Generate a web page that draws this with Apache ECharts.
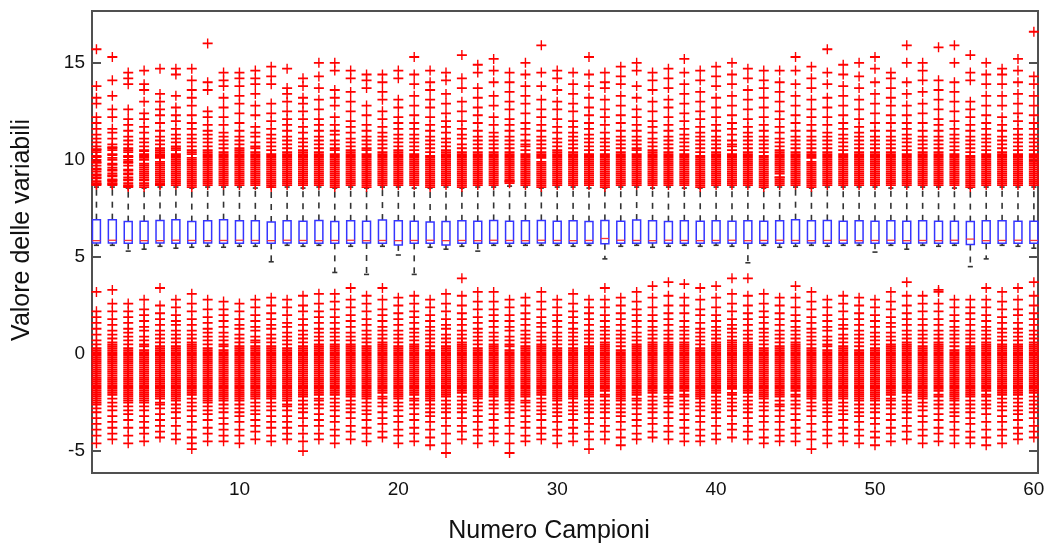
<!DOCTYPE html>
<html>
<head>
<meta charset="utf-8">
<script src="https://cdn.jsdelivr.net/npm/echarts@6/dist/echarts.min.js"></script>
<style>html,body{margin:0;padding:0;background:#fff}#c{width:1053px;height:549px}</style>
</head>
<body>
<div id="c"></div>
<script>
// ---- data ----
const samples = [1,2,3,4,5,6,7,8,9,10,11,12,13,14,15,16,17,18,19,20,21,22,23,24,25,26,27,28,29,30,31,32,33,34,35,36,37,38,39,40,41,42,43,44,45,46,47,48,49,50,51,52,53,54,55,56,57,58,59,60];
const xTickLabels = [10,20,30,40,50,60];
const yTickLabels = [-5,0,5,10,15];

const q1 = [5.72,5.72,5.70,5.71,5.72,5.70,5.71,5.72,5.70,5.71,5.70,5.70,5.72,5.71,5.70,5.70,5.71,5.72,5.70,5.62,5.70,5.71,5.62,5.70,5.71,5.70,5.70,5.71,5.72,5.70,5.71,5.70,5.68,5.71,5.70,5.72,5.70,5.71,5.70,5.72,5.70,5.71,5.70,5.71,5.70,5.72,5.71,5.70,5.72,5.71,5.70,5.71,5.72,5.70,5.71,5.64,5.70,5.71,5.70,5.70];
const median = [5.84,5.86,5.85,5.84,5.84,5.86,5.85,5.84,5.85,5.86,5.85,5.84,5.86,5.85,5.84,5.85,5.86,5.84,5.85,5.84,5.85,5.86,5.84,5.85,5.84,5.86,5.85,5.84,5.86,5.85,5.84,5.85,5.95,5.86,5.85,5.84,5.86,5.85,5.84,5.85,5.86,5.84,5.85,5.86,5.85,5.84,5.85,5.86,5.84,5.85,5.86,5.84,5.85,5.84,5.86,5.92,5.84,5.85,5.86,5.85];
const q3 = [6.92,6.92,6.82,6.84,6.88,6.92,6.82,6.86,6.92,6.86,6.86,6.80,6.86,6.84,6.88,6.82,6.86,6.84,6.90,6.86,6.84,6.80,6.82,6.86,6.84,6.88,6.84,6.86,6.88,6.84,6.86,6.82,6.88,6.84,6.90,6.86,6.82,6.86,6.84,6.86,6.84,6.86,6.84,6.86,6.92,6.86,6.88,6.84,6.86,6.84,6.86,6.84,6.86,6.84,6.84,6.82,6.86,6.86,6.84,6.84];
const whiskerLow = [5.60,5.60,5.30,5.40,5.55,5.45,5.50,5.55,5.50,5.55,5.55,4.75,5.60,5.55,5.60,4.20,5.55,4.10,5.55,5.10,4.10,5.50,5.40,5.55,5.30,5.60,5.55,5.60,5.60,5.60,5.55,5.60,4.90,5.55,5.60,5.50,5.55,5.60,5.55,5.60,5.55,4.70,5.60,5.50,5.55,5.60,5.55,5.60,5.60,5.25,5.60,5.40,5.60,5.55,5.60,4.50,4.90,5.60,5.55,5.45];
const whiskerHigh = [8.60,8.60,8.55,8.55,8.60,8.60,8.55,8.60,8.60,8.60,8.55,8.60,8.60,8.55,8.60,8.55,8.60,8.55,8.60,8.60,8.55,8.55,8.60,8.55,8.60,8.60,8.65,8.60,8.55,8.60,8.60,8.55,8.55,8.60,8.60,8.55,8.60,8.55,8.55,8.60,8.60,8.60,8.55,8.60,8.60,8.55,8.60,8.60,8.60,8.60,8.55,8.60,8.60,8.60,8.55,8.55,8.60,8.60,8.60,8.60];

const outliersHigh = [
[15.7,13.8,13.2,12.9,12.2,11.9,11.6,11.3,11.1,10.9,10.7,10.5,10.4,10.2,10.0,9.9,9.7,9.5,9.4,9.2,9.1,8.9,8.8,8.7],
[15.3,14.1,13.3,12.6,12.2,11.6,11.4,11.1,10.8,10.6,10.5,10.3,10.1,10.0,9.8,9.6,9.5,9.3,9.2,9.0,8.9,8.8,8.7],
[14.5,14.2,13.9,12.6,12.1,11.8,11.5,11.2,11.0,10.8,10.6,10.4,10.2,10.0,9.9,9.7,9.5,9.3,9.1,9.0,8.8,8.7,8.6],
[14.6,13.9,13.6,13.0,12.4,12.1,11.7,11.4,11.1,10.9,10.7,10.5,10.3,10.2,10.0,9.8,9.6,9.4,9.3,9.1,9.0,8.8,8.6],
[14.7,13.4,13.0,12.6,12.3,11.9,11.5,11.2,11.0,10.8,10.6,10.4,10.3,10.1,9.9,9.7,9.6,9.4,9.2,9.1,8.9,8.8,8.7],
[14.7,14.4,13.3,12.7,12.3,12.0,11.6,11.3,11.1,10.9,10.7,10.5,10.3,10.2,10.0,9.8,9.7,9.5,9.3,9.2,9.0,8.9,8.7],
[14.7,14.1,13.6,13.2,12.8,12.3,11.9,11.6,11.3,11.1,10.9,10.7,10.5,10.3,10.1,9.9,9.8,9.6,9.4,9.3,9.1,8.9,8.8,8.6],
[16.0,14.0,13.6,12.5,12.2,11.8,11.5,11.3,11.1,10.9,10.7,10.5,10.4,10.2,10.0,9.9,9.7,9.6,9.4,9.2,9.0,8.9,8.7],
[14.5,14.1,13.8,13.2,12.7,12.2,11.8,11.4,11.2,11.0,10.8,10.6,10.4,10.3,10.1,9.9,9.8,9.6,9.4,9.2,9.1,8.9,8.7],
[14.5,14.2,13.8,13.3,12.9,12.4,11.9,11.5,11.2,11.0,10.8,10.6,10.5,10.3,10.1,10.0,9.8,9.6,9.5,9.3,9.1,9.0,8.8,8.7],
[14.6,14.2,13.9,13.4,12.8,12.3,11.7,11.4,11.2,10.9,10.7,10.6,10.4,10.2,10.0,9.9,9.7,9.5,9.4,9.2,9.0,8.9,8.7],
[14.8,14.3,13.9,12.9,12.4,12.0,11.6,11.3,11.1,10.9,10.7,10.5,10.3,10.1,10.0,9.8,9.6,9.5,9.3,9.1,9.0,8.8,8.6],
[14.7,13.7,13.4,13.0,12.5,12.1,11.8,11.5,11.2,11.0,10.8,10.6,10.4,10.2,10.1,9.9,9.7,9.6,9.4,9.2,9.1,8.9,8.8],
[14.2,13.8,13.2,12.9,12.5,12.1,11.7,11.4,11.1,10.9,10.7,10.5,10.4,10.2,10.0,9.8,9.7,9.5,9.3,9.2,9.0,8.8,8.7],
[15.0,14.3,13.7,13.1,12.6,12.1,11.8,11.5,11.2,11.0,10.8,10.6,10.4,10.2,10.0,9.9,9.7,9.5,9.4,9.2,9.1,8.9,8.7],
[15.0,14.6,13.6,13.2,12.8,12.2,11.8,11.5,11.3,11.0,10.8,10.6,10.5,10.3,10.1,9.9,9.8,9.6,9.4,9.3,9.1,8.9,8.8,8.6],
[14.6,14.2,13.5,13.0,12.5,12.0,11.7,11.4,11.1,10.9,10.7,10.5,10.3,10.2,10.0,9.8,9.6,9.5,9.3,9.1,9.0,8.8,8.7],
[14.4,14.1,13.7,12.8,12.3,11.8,11.5,11.2,11.0,10.8,10.6,10.5,10.3,10.1,9.9,9.8,9.6,9.4,9.3,9.1,8.9,8.8,8.6],
[14.4,14.0,13.5,13.1,12.5,12.1,11.7,11.4,11.2,11.0,10.8,10.6,10.4,10.2,10.1,9.9,9.7,9.5,9.4,9.2,9.0,8.9,8.7],
[14.6,14.2,13.1,12.7,12.2,11.9,11.6,11.3,11.1,10.9,10.7,10.5,10.3,10.1,10.0,9.8,9.6,9.5,9.3,9.1,9.0,8.8,8.7],
[15.3,14.4,13.9,13.3,12.8,12.3,11.9,11.6,11.3,11.1,10.9,10.7,10.5,10.3,10.1,9.9,9.8,9.6,9.4,9.3,9.1,8.9,8.7],
[14.6,14.0,13.6,13.1,12.7,12.2,11.8,11.5,11.2,11.0,10.8,10.6,10.4,10.2,10.0,9.9,9.7,9.5,9.3,9.2,9.0,8.8,8.6],
[14.5,14.1,13.4,12.9,12.4,12.0,11.7,11.4,11.1,10.9,10.7,10.5,10.3,10.2,10.0,9.8,9.7,9.5,9.3,9.1,9.0,8.8,8.7],
[15.4,14.2,13.7,13.0,12.5,12.0,11.6,11.3,11.1,10.8,10.6,10.4,10.3,10.1,9.9,9.8,9.6,9.4,9.3,9.1,8.9,8.8,8.6],
[14.9,14.5,13.7,13.2,12.7,12.3,11.9,11.5,11.2,11.0,10.8,10.6,10.4,10.3,10.1,9.9,9.7,9.6,9.4,9.2,9.0,8.9,8.7],
[15.2,14.6,14.0,13.3,12.8,12.2,11.8,11.4,11.2,11.0,10.8,10.6,10.4,10.2,10.0,9.9,9.7,9.5,9.4,9.2,9.0,8.9,8.7],
[14.5,14.0,13.5,13.0,12.6,12.1,11.8,11.5,11.2,11.0,10.8,10.6,10.4,10.3,10.1,9.9,9.8,9.6,9.4,9.2,9.1,8.9,8.8],
[15.0,14.4,13.8,13.3,12.9,12.4,11.9,11.6,11.3,11.0,10.8,10.7,10.5,10.3,10.1,9.9,9.7,9.6,9.4,9.2,9.0,8.8,8.7],
[15.9,14.5,13.8,13.1,12.6,12.2,11.8,11.5,11.2,11.0,10.8,10.6,10.4,10.2,10.1,9.9,9.7,9.5,9.3,9.2,9.0,8.8,8.6],
[14.6,14.2,13.6,13.0,12.6,12.1,11.7,11.4,11.1,10.9,10.7,10.5,10.4,10.2,10.0,9.8,9.7,9.5,9.3,9.1,9.0,8.8,8.7],
[14.5,13.9,13.4,12.9,12.5,12.0,11.7,11.4,11.2,11.0,10.8,10.6,10.4,10.2,10.0,9.9,9.7,9.5,9.4,9.2,9.0,8.9,8.7],
[15.3,14.4,13.8,13.2,12.7,12.3,11.9,11.6,11.3,11.1,10.9,10.7,10.5,10.3,10.1,10.0,9.8,9.6,9.4,9.3,9.1,8.9,8.7],
[14.5,14.0,13.7,13.1,12.6,12.2,11.8,11.4,11.1,10.9,10.7,10.5,10.3,10.2,10.0,9.8,9.6,9.5,9.3,9.1,9.0,8.8,8.6],
[14.8,14.3,13.9,13.3,12.8,12.3,11.9,11.5,11.2,11.0,10.8,10.6,10.4,10.3,10.1,9.9,9.8,9.6,9.4,9.2,9.1,8.9,8.7],
[15.0,14.6,13.8,13.2,12.6,12.2,11.8,11.5,11.2,11.0,10.8,10.6,10.5,10.3,10.1,9.9,9.7,9.6,9.4,9.2,9.0,8.8,8.7],
[14.5,14.1,13.6,13.0,12.5,12.0,11.7,11.4,11.1,10.9,10.7,10.5,10.3,10.1,10.0,9.8,9.6,9.5,9.3,9.2,9.0,8.8,8.7],
[14.7,14.2,13.7,13.1,12.7,12.2,11.8,11.5,11.2,11.0,10.8,10.6,10.4,10.2,10.0,9.9,9.7,9.5,9.4,9.2,9.0,8.9,8.7],
[15.2,14.5,13.9,13.4,12.9,12.4,12.0,11.6,11.3,11.1,10.9,10.7,10.5,10.3,10.1,9.9,9.8,9.6,9.4,9.2,9.1,8.9,8.7],
[14.6,14.1,13.5,13.0,12.5,12.1,11.7,11.4,11.2,11.0,10.8,10.6,10.4,10.2,10.0,9.8,9.7,9.5,9.3,9.2,9.0,8.8,8.6],
[14.8,14.3,13.8,13.2,12.7,12.2,11.8,11.5,11.2,11.0,10.8,10.6,10.4,10.2,10.1,9.9,9.7,9.5,9.4,9.2,9.0,8.9,8.7],
[15.0,14.4,13.9,13.3,12.8,12.3,11.9,11.6,11.3,11.0,10.8,10.7,10.5,10.3,10.1,9.9,9.8,9.6,9.4,9.2,9.1,8.9,8.7],
[14.7,14.2,13.6,13.1,12.6,12.1,11.7,11.4,11.2,11.0,10.8,10.6,10.4,10.2,10.0,9.9,9.7,9.5,9.3,9.1,9.0,8.8,8.7],
[14.6,14.1,13.7,13.2,12.7,12.2,11.8,11.5,11.2,11.0,10.8,10.6,10.4,10.2,10.0,9.8,9.7,9.5,9.3,9.2,9.0,8.8,8.6],
[14.6,14.0,13.5,13.0,12.5,12.1,11.7,11.4,11.1,10.9,10.7,10.5,10.3,10.2,10.0,9.8,9.6,9.5,9.3,9.1,9.0,8.8,8.7],
[15.3,14.6,13.9,13.3,12.8,12.3,11.9,11.5,11.2,11.0,10.8,10.6,10.4,10.2,10.1,9.9,9.7,9.6,9.4,9.2,9.0,8.9,8.7],
[14.8,14.2,13.7,13.1,12.6,12.2,11.8,11.5,11.2,11.0,10.8,10.6,10.4,10.3,10.1,9.9,9.7,9.5,9.3,9.2,9.0,8.8,8.6],
[15.7,14.5,13.9,13.2,12.7,12.2,11.8,11.4,11.2,11.0,10.8,10.6,10.4,10.2,10.0,9.9,9.7,9.5,9.4,9.2,9.0,8.9,8.7],
[14.9,14.4,13.8,13.3,12.8,12.3,11.9,11.6,11.3,11.1,10.9,10.7,10.5,10.3,10.1,9.9,9.7,9.6,9.4,9.2,9.1,8.9,8.7],
[15.0,14.3,13.7,13.1,12.6,12.1,11.7,11.4,11.2,11.0,10.8,10.6,10.4,10.2,10.0,9.8,9.7,9.5,9.3,9.1,9.0,8.8,8.7],
[15.3,14.7,14.0,13.4,12.9,12.4,11.9,11.5,11.2,11.0,10.8,10.6,10.4,10.3,10.1,9.9,9.7,9.5,9.4,9.2,9.0,8.9,8.7],
[14.5,14.2,13.7,13.2,12.8,12.3,11.9,11.5,11.2,11.0,10.8,10.6,10.4,10.2,10.0,9.9,9.7,9.5,9.3,9.2,9.0,8.8,8.7],
[15.9,15.0,14.0,13.4,12.8,12.3,11.9,11.6,11.3,11.1,10.9,10.7,10.5,10.3,10.1,9.9,9.8,9.6,9.4,9.2,9.0,8.9,8.7],
[15.0,14.6,14.1,13.5,12.9,12.4,11.9,11.5,11.2,11.0,10.8,10.6,10.4,10.2,10.0,9.9,9.7,9.5,9.4,9.2,9.0,8.8,8.7],
[15.8,14.1,13.6,13.1,12.6,12.1,11.8,11.5,11.2,11.0,10.8,10.6,10.4,10.3,10.1,9.9,9.7,9.6,9.4,9.2,9.1,8.9,8.7],
[15.9,15.0,14.0,13.5,13.0,12.5,12.0,11.6,11.3,11.1,10.9,10.7,10.5,10.3,10.1,10.0,9.8,9.6,9.4,9.3,9.1,8.9,8.7],
[15.4,14.5,14.1,13.0,12.6,12.2,11.8,11.5,11.2,11.0,10.8,10.6,10.4,10.2,10.0,9.8,9.7,9.5,9.3,9.1,9.0,8.8,8.6],
[15.0,14.4,13.9,13.3,12.8,12.3,11.9,11.6,11.3,11.1,10.9,10.7,10.5,10.3,10.1,9.9,9.7,9.6,9.4,9.2,9.0,8.9,8.7],
[14.7,14.4,13.9,13.3,12.8,12.2,11.8,11.5,11.2,11.0,10.8,10.6,10.4,10.2,10.0,9.9,9.7,9.5,9.4,9.2,9.0,8.8,8.7],
[15.2,14.6,14.0,13.4,12.9,12.4,12.0,11.6,11.3,11.1,10.9,10.7,10.5,10.3,10.1,9.9,9.8,9.6,9.4,9.2,9.0,8.9,8.7],
[16.6,14.3,13.9,13.3,12.8,12.3,11.9,11.6,11.3,11.1,10.9,10.7,10.5,10.3,10.1,9.9,9.7,9.5,9.4,9.2,9.0,8.8,8.7]
];

// extra observations in the solid (crowded) part of each upper cluster
const highDense = [
[8.75,9.05,9.25,9.55,9.85,10.15,10.55],[8.75,8.95,9.15,9.45,9.75,10.25,10.65],[8.65,8.95,9.25,9.45,9.85,10.15,10.5],[8.7,8.95,9.2,9.5,9.7,10.1,10.45],
[8.75,9.0,9.3,9.5,9.8,10.2,10.5],[8.8,9.1,9.4,9.6,9.9,10.1,10.6],[8.7,9.0,9.2,9.5,9.7,10.0,10.4],[8.8,9.1,9.3,9.5,9.8,10.1,10.3],
[8.8,9.0,9.3,9.5,9.7,10.0,10.2],[8.9,9.2,9.4,9.7,9.9,10.2,10.4],[8.8,9.1,9.3,9.6,9.8,10.1,10.3],[8.7,8.9,9.2,9.4,9.7,9.9,10.2],
[8.7,9.0,9.3,9.5,9.8,10.0,10.3],[8.9,9.1,9.4,9.6,9.9,10.1,10.3],[8.8,9.0,9.3,9.6,9.8,10.1,10.3],[8.7,9.0,9.2,9.5,9.7,10.0,10.2],
[8.9,9.2,9.4,9.7,9.9,10.1,10.4],[8.7,9.0,9.2,9.5,9.7,10.0,10.2],[8.8,9.1,9.3,9.6,9.8,10.0,10.3],[8.9,9.2,9.4,9.7,9.9,10.2,10.4],
[8.8,9.0,9.2,9.5,9.7,10.0,10.2],[8.7,8.9,9.1,9.4,9.6,9.8,10.1],[8.9,9.2,9.4,9.6,9.9,10.1,10.4],[8.7,9.0,9.2,9.5,9.7,10.0,10.2],
[8.8,9.1,9.3,9.5,9.8,10.0,10.2],[8.8,9.1,9.3,9.6,9.8,10.1,10.3],[8.9,9.0,9.3,9.5,9.7,10.0,10.2],[8.9,9.1,9.3,9.5,9.8,10.0,10.2],
[8.7,8.9,9.1,9.4,9.6,9.8,10.3],[8.9,9.2,9.4,9.6,9.9,10.1,10.3],[8.8,9.1,9.3,9.6,9.8,10.1,10.3],[8.8,9.0,9.2,9.5,9.7,9.9,10.2],
[8.7,8.9,9.2,9.4,9.7,9.9,10.1],[8.8,9.0,9.3,9.5,9.7,10.0,10.2],[8.9,9.1,9.3,9.5,9.8,10.0,10.2],[8.9,9.1,9.4,9.7,9.9,10.2,10.4],
[8.8,9.1,9.3,9.6,9.8,10.1,10.3],[8.8,9.0,9.3,9.5,9.7,10.0,10.2],[8.7,8.9,9.1,9.4,9.6,9.9,10.1],[8.8,9.1,9.3,9.6,9.8,10.0,10.3],
[8.8,9.0,9.3,9.5,9.7,10.0,10.2],[8.9,9.2,9.4,9.6,9.8,10.1,10.3],[8.7,8.9,9.1,9.4,9.6,9.9,10.1],[8.9,9.1,9.4,9.7,9.9,10.1,10.4],
[8.8,9.1,9.3,9.5,9.8,10.0,10.3],[8.7,8.9,9.1,9.4,9.6,9.8,10.2],[8.8,9.1,9.3,9.6,9.8,10.1,10.3],[8.8,9.0,9.3,9.5,9.8,10.0,10.2],
[8.9,9.2,9.4,9.6,9.9,10.1,10.3],[8.8,9.1,9.3,9.6,9.8,10.0,10.2],[8.9,9.1,9.4,9.6,9.8,10.1,10.3],[8.8,9.1,9.3,9.5,9.7,10.0,10.2],
[8.9,9.1,9.3,9.6,9.8,10.1,10.3],[8.8,9.0,9.3,9.5,9.8,10.0,10.2],[8.8,9.0,9.2,9.5,9.7,9.9,10.2],[8.7,8.9,9.2,9.4,9.6,9.9,10.1],
[8.8,9.1,9.3,9.5,9.8,10.0,10.2],[8.9,9.1,9.3,9.6,9.8,10.1,10.3],[8.8,9.1,9.3,9.5,9.7,10.0,10.2],[8.9,9.1,9.3,9.6,9.8,10.0,10.2]
];

const outliersLow = [
[3.2,2.2,1.9,1.6,1.3,1.0,0.7,0.5,0.3,0.2,0.0,-0.1,-0.3,-0.4,-0.6,-0.7,-0.9,-1.0,-1.2,-1.3,-1.5,-1.6,-1.8,-1.9,-2.1,-2.2,-2.4,-2.6,-2.8,-3.0,-3.3,-3.6,-3.9,-4.2,-4.6],
[3.3,2.6,2.2,1.8,1.5,1.2,1.0,0.8,0.6,0.4,0.2,0.1,-0.1,-0.2,-0.4,-0.5,-0.7,-0.8,-1.0,-1.1,-1.3,-1.5,-1.6,-1.8,-2.0,-2.1,-2.3,-2.5,-2.7,-2.9,-3.2,-3.5,-3.8,-4.1,-4.4],
[2.6,2.2,1.9,1.6,1.3,1.1,0.9,0.7,0.5,0.3,0.1,0.0,-0.2,-0.3,-0.5,-0.6,-0.8,-0.9,-1.1,-1.2,-1.4,-1.5,-1.7,-1.9,-2.0,-2.2,-2.4,-2.5,-2.7,-2.9,-3.1,-3.4,-3.8,-4.2,-4.6],
[2.8,2.3,2.0,1.7,1.4,1.2,0.9,0.7,0.5,0.4,0.2,0.0,-0.1,-0.3,-0.4,-0.6,-0.7,-0.9,-1.0,-1.2,-1.4,-1.5,-1.7,-1.8,-2.0,-2.2,-2.3,-2.5,-2.7,-2.9,-3.2,-3.5,-3.8,-4.1,-4.5],
[3.4,2.5,2.1,1.8,1.5,1.2,1.0,0.8,0.6,0.4,0.2,0.1,-0.1,-0.2,-0.4,-0.6,-0.7,-0.9,-1.0,-1.2,-1.3,-1.5,-1.7,-1.8,-2.0,-2.1,-2.3,-2.5,-2.6,-2.8,-3.1,-3.4,-3.7,-4.0,-4.3],
[2.8,2.4,2.0,1.7,1.5,1.2,1.0,0.8,0.6,0.4,0.3,0.1,-0.1,-0.2,-0.4,-0.5,-0.7,-0.8,-1.0,-1.2,-1.3,-1.5,-1.6,-1.8,-2.0,-2.1,-2.3,-2.4,-2.6,-2.8,-3.0,-3.3,-3.7,-4.1,-4.4],
[3.1,2.6,2.2,1.8,1.5,1.2,1.0,0.8,0.6,0.5,0.3,0.1,0.0,-0.2,-0.3,-0.5,-0.6,-0.8,-1.0,-1.1,-1.3,-1.4,-1.6,-1.8,-1.9,-2.1,-2.3,-2.5,-2.7,-2.9,-3.2,-3.5,-3.9,-4.3,-4.6,-4.9],
[2.8,2.3,1.9,1.6,1.3,1.1,0.9,0.7,0.5,0.3,0.2,0.0,-0.1,-0.3,-0.4,-0.6,-0.8,-0.9,-1.1,-1.2,-1.4,-1.5,-1.7,-1.9,-2.0,-2.2,-2.4,-2.5,-2.7,-2.9,-3.1,-3.4,-3.8,-4.1,-4.5],
[2.7,2.3,2.0,1.7,1.4,1.1,0.9,0.7,0.5,0.4,0.2,0.0,-0.1,-0.3,-0.5,-0.6,-0.8,-0.9,-1.1,-1.3,-1.4,-1.6,-1.7,-1.9,-2.1,-2.2,-2.4,-2.6,-2.8,-3.0,-3.3,-3.6,-3.9,-4.2,-4.5],
[2.6,2.2,1.8,1.5,1.3,1.0,0.8,0.6,0.4,0.3,0.1,-0.1,-0.2,-0.4,-0.5,-0.7,-0.8,-1.0,-1.1,-1.3,-1.5,-1.6,-1.8,-1.9,-2.1,-2.3,-2.4,-2.6,-2.8,-3.0,-3.2,-3.5,-3.9,-4.2,-4.6],
[2.8,2.4,2.0,1.7,1.4,1.2,0.9,0.7,0.6,0.4,0.2,0.0,-0.1,-0.3,-0.4,-0.6,-0.7,-0.9,-1.1,-1.2,-1.4,-1.5,-1.7,-1.9,-2.0,-2.2,-2.3,-2.5,-2.7,-2.9,-3.1,-3.4,-3.7,-4.0,-4.4],
[2.9,2.5,2.1,1.8,1.5,1.3,1.0,0.8,0.6,0.4,0.3,0.1,-0.1,-0.2,-0.4,-0.5,-0.7,-0.9,-1.0,-1.2,-1.3,-1.5,-1.7,-1.8,-2.0,-2.2,-2.3,-2.5,-2.7,-2.9,-3.2,-3.5,-3.8,-4.2,-4.5],
[2.8,2.4,2.0,1.6,1.4,1.1,0.9,0.7,0.5,0.3,0.2,0.0,-0.2,-0.3,-0.5,-0.6,-0.8,-0.9,-1.1,-1.2,-1.4,-1.6,-1.7,-1.9,-2.1,-2.2,-2.4,-2.6,-2.7,-2.9,-3.2,-3.5,-3.8,-4.1,-4.4],
[3.0,2.5,2.2,1.8,1.5,1.2,1.0,0.8,0.6,0.4,0.2,0.1,-0.1,-0.2,-0.4,-0.6,-0.7,-0.9,-1.0,-1.2,-1.4,-1.5,-1.7,-1.8,-2.0,-2.2,-2.4,-2.6,-2.8,-3.0,-3.3,-3.7,-4.1,-4.5,-5.0],
[3.1,2.6,2.2,1.9,1.6,1.3,1.1,0.9,0.7,0.5,0.3,0.1,0.0,-0.2,-0.3,-0.5,-0.7,-0.8,-1.0,-1.1,-1.3,-1.4,-1.6,-1.8,-1.9,-2.1,-2.3,-2.4,-2.6,-2.8,-3.1,-3.4,-3.7,-4.1,-4.4],
[3.1,2.7,2.3,1.9,1.6,1.3,1.1,0.9,0.7,0.5,0.3,0.2,0.0,-0.2,-0.3,-0.5,-0.6,-0.8,-1.0,-1.1,-1.3,-1.4,-1.6,-1.8,-1.9,-2.1,-2.3,-2.5,-2.7,-2.9,-3.2,-3.5,-3.9,-4.2,-4.6],
[3.4,2.8,2.4,2.0,1.7,1.4,1.1,0.9,0.7,0.5,0.3,0.2,0.0,-0.1,-0.3,-0.4,-0.6,-0.8,-0.9,-1.1,-1.2,-1.4,-1.6,-1.7,-1.9,-2.1,-2.2,-2.4,-2.6,-2.8,-3.0,-3.3,-3.7,-4.0,-4.4],
[3.0,2.6,2.2,1.8,1.5,1.2,1.0,0.8,0.6,0.4,0.3,0.1,-0.1,-0.2,-0.4,-0.5,-0.7,-0.9,-1.0,-1.2,-1.3,-1.5,-1.6,-1.8,-2.0,-2.1,-2.3,-2.5,-2.7,-2.9,-3.1,-3.4,-3.8,-4.1,-4.5],
[3.4,2.8,2.3,2.0,1.7,1.4,1.2,1.0,0.8,0.6,0.4,0.2,0.1,-0.1,-0.2,-0.4,-0.5,-0.7,-0.9,-1.0,-1.2,-1.3,-1.5,-1.7,-1.8,-2.0,-2.2,-2.3,-2.5,-2.7,-3.0,-3.3,-3.6,-4.0,-4.3],
[2.9,2.5,2.1,1.8,1.5,1.2,1.0,0.8,0.6,0.4,0.2,0.1,-0.1,-0.2,-0.4,-0.6,-0.7,-0.9,-1.0,-1.2,-1.4,-1.5,-1.7,-1.8,-2.0,-2.2,-2.3,-2.5,-2.7,-2.9,-3.2,-3.5,-3.9,-4.2,-4.6],
[3.0,2.6,2.2,1.9,1.6,1.3,1.1,0.9,0.7,0.5,0.3,0.2,0.0,-0.2,-0.3,-0.5,-0.6,-0.8,-1.0,-1.1,-1.3,-1.4,-1.6,-1.8,-1.9,-2.1,-2.3,-2.4,-2.6,-2.8,-3.1,-3.4,-3.8,-4.1,-4.5],
[2.8,2.4,2.0,1.7,1.4,1.2,1.0,0.8,0.6,0.4,0.2,0.0,-0.1,-0.3,-0.4,-0.6,-0.8,-0.9,-1.1,-1.2,-1.4,-1.6,-1.7,-1.9,-2.0,-2.2,-2.4,-2.6,-2.8,-3.0,-3.2,-3.5,-3.9,-4.3,-4.7],
[3.1,2.6,2.2,1.8,1.5,1.3,1.0,0.8,0.6,0.4,0.3,0.1,-0.1,-0.2,-0.4,-0.5,-0.7,-0.9,-1.0,-1.2,-1.3,-1.5,-1.7,-1.8,-2.0,-2.2,-2.4,-2.6,-2.8,-3.0,-3.3,-3.7,-4.1,-4.6,-5.1],
[3.9,3.0,2.5,2.1,1.8,1.5,1.2,1.0,0.8,0.6,0.4,0.2,0.1,-0.1,-0.2,-0.4,-0.6,-0.7,-0.9,-1.0,-1.2,-1.4,-1.5,-1.7,-1.9,-2.0,-2.2,-2.4,-2.6,-2.8,-3.0,-3.3,-3.7,-4.0,-4.4],
[3.2,2.7,2.3,1.9,1.6,1.3,1.1,0.9,0.7,0.5,0.3,0.1,0.0,-0.2,-0.4,-0.5,-0.7,-0.8,-1.0,-1.2,-1.3,-1.5,-1.6,-1.8,-2.0,-2.1,-2.3,-2.5,-2.7,-2.9,-3.2,-3.5,-3.9,-4.2,-4.6],
[3.2,2.7,2.3,2.0,1.7,1.4,1.1,0.9,0.7,0.5,0.3,0.2,0.0,-0.1,-0.3,-0.5,-0.6,-0.8,-0.9,-1.1,-1.3,-1.4,-1.6,-1.7,-1.9,-2.1,-2.2,-2.4,-2.6,-2.8,-3.1,-3.4,-3.8,-4.1,-4.5],
[2.8,2.4,2.0,1.7,1.4,1.2,0.9,0.7,0.5,0.4,0.2,0.0,-0.1,-0.3,-0.5,-0.6,-0.8,-0.9,-1.1,-1.3,-1.4,-1.6,-1.7,-1.9,-2.1,-2.2,-2.4,-2.6,-2.8,-3.0,-3.3,-3.7,-4.1,-4.6,-5.1],
[2.9,2.5,2.1,1.8,1.5,1.2,1.0,0.8,0.6,0.4,0.2,0.1,-0.1,-0.3,-0.4,-0.6,-0.7,-0.9,-1.1,-1.2,-1.4,-1.5,-1.7,-1.9,-2.0,-2.2,-2.4,-2.5,-2.7,-2.9,-3.2,-3.5,-3.8,-4.2,-4.5],
[3.2,2.7,2.3,1.9,1.6,1.4,1.1,0.9,0.7,0.5,0.3,0.2,0.0,-0.2,-0.3,-0.5,-0.7,-0.8,-1.0,-1.1,-1.3,-1.5,-1.6,-1.8,-1.9,-2.1,-2.3,-2.5,-2.7,-2.9,-3.1,-3.4,-3.8,-4.1,-4.4],
[2.8,2.4,2.0,1.7,1.4,1.1,0.9,0.7,0.5,0.3,0.2,0.0,-0.2,-0.3,-0.5,-0.6,-0.8,-1.0,-1.1,-1.3,-1.4,-1.6,-1.8,-1.9,-2.1,-2.3,-2.4,-2.6,-2.8,-3.0,-3.2,-3.5,-3.9,-4.2,-4.6],
[3.1,2.6,2.2,1.9,1.6,1.3,1.1,0.9,0.7,0.5,0.3,0.1,0.0,-0.2,-0.3,-0.5,-0.7,-0.8,-1.0,-1.2,-1.3,-1.5,-1.6,-1.8,-2.0,-2.1,-2.3,-2.5,-2.7,-2.9,-3.1,-3.4,-3.8,-4.1,-4.5],
[2.8,2.4,2.1,1.8,1.5,1.2,1.0,0.8,0.6,0.4,0.2,0.1,-0.1,-0.2,-0.4,-0.6,-0.7,-0.9,-1.0,-1.2,-1.4,-1.5,-1.7,-1.9,-2.0,-2.2,-2.4,-2.6,-2.8,-3.0,-3.3,-3.6,-4.0,-4.4,-4.9],
[3.4,2.8,2.4,2.0,1.7,1.4,1.2,1.0,0.8,0.6,0.4,0.2,0.0,-0.1,-0.3,-0.4,-0.6,-0.8,-0.9,-1.1,-1.2,-1.4,-1.6,-1.7,-1.9,-2.1,-2.2,-2.4,-2.6,-2.8,-3.0,-3.3,-3.7,-4.0,-4.4],
[2.9,2.5,2.1,1.8,1.5,1.2,1.0,0.8,0.6,0.4,0.2,0.0,-0.1,-0.3,-0.4,-0.6,-0.8,-0.9,-1.1,-1.2,-1.4,-1.6,-1.7,-1.9,-2.1,-2.2,-2.4,-2.6,-2.8,-3.0,-3.2,-3.5,-3.9,-4.3,-4.7],
[3.2,2.7,2.3,2.0,1.7,1.4,1.1,0.9,0.7,0.5,0.3,0.2,0.0,-0.2,-0.3,-0.5,-0.6,-0.8,-1.0,-1.1,-1.3,-1.4,-1.6,-1.8,-1.9,-2.1,-2.3,-2.4,-2.6,-2.8,-3.1,-3.4,-3.7,-4.1,-4.4],
[3.5,2.9,2.4,2.0,1.7,1.4,1.2,1.0,0.8,0.6,0.4,0.2,0.1,-0.1,-0.2,-0.4,-0.6,-0.7,-0.9,-1.0,-1.2,-1.4,-1.5,-1.7,-1.8,-2.0,-2.2,-2.4,-2.6,-2.8,-3.0,-3.3,-3.6,-4.0,-4.3],
[3.7,3.0,2.5,2.1,1.8,1.5,1.2,1.0,0.8,0.6,0.4,0.3,0.1,-0.1,-0.2,-0.4,-0.5,-0.7,-0.9,-1.0,-1.2,-1.3,-1.5,-1.7,-1.8,-2.0,-2.2,-2.3,-2.5,-2.7,-3.0,-3.3,-3.7,-4.0,-4.4],
[3.6,2.9,2.5,2.1,1.7,1.4,1.2,1.0,0.8,0.6,0.4,0.2,0.0,-0.1,-0.3,-0.4,-0.6,-0.8,-0.9,-1.1,-1.2,-1.4,-1.6,-1.7,-1.9,-2.1,-2.2,-2.4,-2.6,-2.8,-3.1,-3.4,-3.8,-4.1,-4.5],
[3.4,2.8,2.3,2.0,1.6,1.3,1.1,0.9,0.7,0.5,0.3,0.1,0.0,-0.2,-0.4,-0.5,-0.7,-0.8,-1.0,-1.2,-1.3,-1.5,-1.6,-1.8,-2.0,-2.1,-2.3,-2.5,-2.7,-2.9,-3.2,-3.5,-3.9,-4.2,-4.5],
[3.5,2.9,2.4,2.0,1.7,1.4,1.2,1.0,0.8,0.6,0.4,0.2,0.1,-0.1,-0.2,-0.4,-0.6,-0.7,-0.9,-1.1,-1.2,-1.4,-1.5,-1.7,-1.9,-2.0,-2.2,-2.4,-2.6,-2.8,-3.0,-3.3,-3.7,-4.1,-4.4],
[3.9,3.1,2.6,2.2,1.8,1.5,1.3,1.1,0.9,0.7,0.5,0.3,0.1,0.0,-0.2,-0.3,-0.5,-0.7,-0.8,-1.0,-1.1,-1.3,-1.5,-1.6,-1.8,-2.0,-2.1,-2.3,-2.5,-2.7,-2.9,-3.2,-3.6,-3.9,-4.3],
[3.9,3.0,2.5,2.1,1.8,1.5,1.2,1.0,0.8,0.6,0.4,0.2,0.1,-0.1,-0.3,-0.4,-0.6,-0.7,-0.9,-1.1,-1.2,-1.4,-1.5,-1.7,-1.9,-2.0,-2.2,-2.4,-2.6,-2.8,-3.0,-3.3,-3.7,-4.0,-4.4],
[3.1,2.6,2.2,1.9,1.6,1.3,1.1,0.9,0.7,0.5,0.3,0.1,0.0,-0.2,-0.4,-0.5,-0.7,-0.8,-1.0,-1.2,-1.3,-1.5,-1.6,-1.8,-2.0,-2.1,-2.3,-2.5,-2.7,-2.9,-3.2,-3.5,-3.9,-4.3,-4.6],
[2.9,2.5,2.1,1.8,1.5,1.2,1.0,0.8,0.6,0.4,0.2,0.1,-0.1,-0.3,-0.4,-0.6,-0.7,-0.9,-1.1,-1.2,-1.4,-1.5,-1.7,-1.9,-2.0,-2.2,-2.4,-2.6,-2.7,-2.9,-3.2,-3.5,-3.9,-4.2,-4.5],
[3.5,2.9,2.4,2.0,1.7,1.4,1.2,1.0,0.8,0.6,0.4,0.2,0.0,-0.1,-0.3,-0.5,-0.6,-0.8,-0.9,-1.1,-1.3,-1.4,-1.6,-1.7,-1.9,-2.1,-2.2,-2.4,-2.6,-2.8,-3.1,-3.4,-3.8,-4.1,-4.5],
[3.2,2.7,2.3,1.9,1.6,1.3,1.1,0.9,0.7,0.5,0.3,0.1,0.0,-0.2,-0.3,-0.5,-0.7,-0.8,-1.0,-1.1,-1.3,-1.5,-1.6,-1.8,-2.0,-2.1,-2.3,-2.5,-2.7,-2.9,-3.2,-3.6,-4.0,-4.4,-4.9],
[2.8,2.4,2.0,1.7,1.4,1.2,0.9,0.7,0.5,0.4,0.2,0.0,-0.1,-0.3,-0.5,-0.6,-0.8,-0.9,-1.1,-1.3,-1.4,-1.6,-1.7,-1.9,-2.1,-2.2,-2.4,-2.6,-2.8,-3.0,-3.2,-3.5,-3.9,-4.2,-4.6],
[3.0,2.6,2.2,1.8,1.5,1.3,1.0,0.8,0.6,0.4,0.3,0.1,-0.1,-0.2,-0.4,-0.5,-0.7,-0.9,-1.0,-1.2,-1.3,-1.5,-1.7,-1.8,-2.0,-2.2,-2.3,-2.5,-2.7,-2.9,-3.1,-3.4,-3.8,-4.1,-4.5],
[2.9,2.5,2.1,1.8,1.5,1.2,1.0,0.8,0.6,0.4,0.2,0.0,-0.1,-0.3,-0.4,-0.6,-0.8,-0.9,-1.1,-1.2,-1.4,-1.6,-1.7,-1.9,-2.0,-2.2,-2.4,-2.6,-2.8,-3.0,-3.2,-3.5,-3.9,-4.2,-4.6],
[2.8,2.4,2.0,1.7,1.4,1.1,0.9,0.7,0.5,0.3,0.2,0.0,-0.2,-0.3,-0.5,-0.6,-0.8,-1.0,-1.1,-1.3,-1.4,-1.6,-1.8,-1.9,-2.1,-2.3,-2.4,-2.6,-2.8,-3.0,-3.3,-3.6,-4.0,-4.3,-4.7],
[3.2,2.7,2.3,1.9,1.6,1.4,1.1,0.9,0.7,0.5,0.3,0.2,0.0,-0.2,-0.3,-0.5,-0.6,-0.8,-1.0,-1.1,-1.3,-1.4,-1.6,-1.8,-1.9,-2.1,-2.3,-2.4,-2.6,-2.8,-3.1,-3.4,-3.8,-4.1,-4.5],
[3.7,3.0,2.5,2.1,1.8,1.5,1.2,1.0,0.8,0.6,0.4,0.2,0.1,-0.1,-0.2,-0.4,-0.6,-0.7,-0.9,-1.0,-1.2,-1.4,-1.5,-1.7,-1.8,-2.0,-2.2,-2.4,-2.6,-2.8,-3.0,-3.3,-3.7,-4.0,-4.4],
[3.0,2.6,2.2,1.8,1.5,1.2,1.0,0.8,0.6,0.4,0.3,0.1,-0.1,-0.2,-0.4,-0.5,-0.7,-0.9,-1.0,-1.2,-1.3,-1.5,-1.7,-1.8,-2.0,-2.2,-2.3,-2.5,-2.7,-2.9,-3.2,-3.5,-3.9,-4.2,-4.6],
[3.3,3.2,2.6,2.2,1.8,1.5,1.2,1.0,0.8,0.6,0.4,0.2,0.0,-0.1,-0.3,-0.4,-0.6,-0.8,-0.9,-1.1,-1.2,-1.4,-1.6,-1.7,-1.9,-2.1,-2.2,-2.4,-2.6,-2.8,-3.1,-3.4,-3.8,-4.1,-4.5],
[2.8,2.4,2.0,1.7,1.4,1.2,1.0,0.8,0.6,0.4,0.2,0.0,-0.1,-0.3,-0.4,-0.6,-0.8,-0.9,-1.1,-1.2,-1.4,-1.6,-1.7,-1.9,-2.1,-2.2,-2.4,-2.6,-2.8,-3.0,-3.2,-3.5,-3.9,-4.2,-4.6],
[2.8,2.4,2.1,1.8,1.5,1.2,1.0,0.8,0.6,0.4,0.2,0.1,-0.1,-0.2,-0.4,-0.6,-0.7,-0.9,-1.0,-1.2,-1.4,-1.5,-1.7,-1.9,-2.0,-2.2,-2.4,-2.6,-2.8,-3.0,-3.3,-3.6,-4.0,-4.3,-4.6],
[3.4,2.8,2.4,2.0,1.7,1.4,1.2,1.0,0.8,0.6,0.4,0.2,0.0,-0.1,-0.3,-0.4,-0.6,-0.8,-0.9,-1.1,-1.2,-1.4,-1.6,-1.7,-1.9,-2.1,-2.2,-2.4,-2.6,-2.8,-3.1,-3.5,-3.9,-4.3,-4.7],
[3.2,2.7,2.3,1.9,1.6,1.3,1.1,0.9,0.7,0.5,0.3,0.1,0.0,-0.2,-0.4,-0.5,-0.7,-0.8,-1.0,-1.2,-1.3,-1.5,-1.6,-1.8,-2.0,-2.1,-2.3,-2.5,-2.7,-2.9,-3.2,-3.5,-3.9,-4.2,-4.6],
[3.4,2.8,2.3,2.0,1.6,1.3,1.1,0.9,0.7,0.5,0.3,0.2,0.0,-0.2,-0.3,-0.5,-0.7,-0.8,-1.0,-1.1,-1.3,-1.5,-1.6,-1.8,-1.9,-2.1,-2.3,-2.5,-2.7,-2.9,-3.1,-3.4,-3.8,-4.1,-4.4],
[3.7,3.0,2.5,2.1,1.8,1.5,1.2,1.0,0.8,0.6,0.4,0.2,0.1,-0.1,-0.2,-0.4,-0.6,-0.7,-0.9,-1.0,-1.2,-1.4,-1.5,-1.7,-1.9,-2.0,-2.2,-2.4,-2.6,-2.8,-3.0,-3.3,-3.7,-4.0,-4.3]
];

// extra observations in the solid (crowded) part of each lower cluster
const lowDense = [
[0.1,-0.2,-0.5,-0.8,-1.1,-1.4,-1.7,-2.0,-2.3,-2.5],[0.5,0.3,0.0,-0.3,-0.6,-0.9,-1.2,-1.4,-1.7,-1.9],[0.2,-0.1,-0.4,-0.7,-1.0,-1.3,-1.6,-1.8,-2.1,-2.3],
[0.1,-0.2,-0.5,-0.8,-1.1,-1.3,-1.6,-1.9,-2.1,-2.4],[0.3,0.0,-0.3,-0.5,-0.8,-1.1,-1.4,-1.6,-1.9,-2.2],[0.2,0.0,-0.3,-0.6,-0.9,-1.1,-1.4,-1.7,-1.9,-2.2],
[0.4,0.2,-0.1,-0.4,-0.7,-0.9,-1.2,-1.5,-1.7,-2.0],[0.1,-0.2,-0.5,-0.7,-1.0,-1.3,-1.6,-1.8,-2.1,-2.3],[0.1,-0.2,-0.4,-0.7,-1.0,-1.2,-1.5,-1.8,-2.0,-2.3],
[0.2,0.0,-0.3,-0.6,-0.9,-1.2,-1.4,-1.7,-2.0,-2.2],[0.3,0.1,-0.2,-0.5,-0.8,-1.0,-1.3,-1.6,-1.8,-2.1],[0.2,0.0,-0.3,-0.6,-0.8,-1.1,-1.4,-1.6,-1.9,-2.1],
[0.1,-0.1,-0.4,-0.7,-1.0,-1.3,-1.5,-1.8,-2.0,-2.3],[0.3,0.0,-0.3,-0.5,-0.8,-1.1,-1.3,-1.6,-1.9,-2.1],[0.4,0.2,-0.1,-0.4,-0.6,-0.9,-1.2,-1.5,-1.7,-2.0],
[0.4,0.1,-0.1,-0.4,-0.7,-0.9,-1.2,-1.5,-1.7,-2.0],[0.4,0.1,-0.2,-0.5,-0.7,-1.0,-1.3,-1.5,-1.8,-2.0],[0.2,0.0,-0.3,-0.6,-0.8,-1.1,-1.4,-1.7,-1.9,-2.2],
[0.5,0.3,0.0,-0.3,-0.6,-0.8,-1.1,-1.4,-1.6,-1.9],[0.3,0.0,-0.3,-0.5,-0.8,-1.1,-1.3,-1.6,-1.9,-2.1],[0.4,0.1,-0.1,-0.4,-0.7,-0.9,-1.2,-1.5,-1.7,-2.0],
[0.1,-0.2,-0.5,-0.7,-1.0,-1.3,-1.5,-1.8,-2.1,-2.3],[0.2,0.0,-0.3,-0.6,-0.8,-1.1,-1.4,-1.6,-1.9,-2.1],[0.5,0.3,0.0,-0.3,-0.5,-0.8,-1.1,-1.3,-1.6,-1.8],
[0.2,-0.1,-0.3,-0.6,-0.9,-1.1,-1.4,-1.7,-1.9,-2.2],[0.4,0.1,-0.2,-0.4,-0.7,-1.0,-1.2,-1.5,-1.8,-2.0],[0.1,-0.2,-0.4,-0.7,-1.0,-1.2,-1.5,-1.8,-2.0,-2.3],
[0.3,0.0,-0.2,-0.5,-0.8,-1.0,-1.3,-1.6,-1.8,-2.1],[0.4,0.1,-0.1,-0.4,-0.6,-0.9,-1.2,-1.4,-1.7,-2.0],[0.1,-0.1,-0.4,-0.7,-0.9,-1.2,-1.5,-1.7,-2.0,-2.2],
[0.2,-0.1,-0.4,-0.6,-0.9,-1.1,-1.4,-1.7,-1.9,-2.2],[0.3,0.0,-0.3,-0.5,-0.8,-1.1,-1.3,-1.6,-1.8,-2.1],[0.5,0.3,0.1,-0.2,-0.5,-0.7,-1.0,-1.3,-1.5,-1.8],
[0.1,-0.2,-0.5,-0.7,-1.0,-1.3,-1.5,-1.8,-2.0,-2.3],[0.4,0.1,-0.1,-0.4,-0.7,-0.9,-1.2,-1.5,-1.7,-2.0],[0.5,0.3,0.0,-0.3,-0.5,-0.8,-1.1,-1.3,-1.6,-1.9],
[0.5,0.2,0.0,-0.3,-0.6,-0.8,-1.1,-1.4,-1.6,-1.9],[0.5,0.3,0.1,-0.2,-0.5,-0.7,-1.0,-1.3,-1.5,-1.8],[0.2,-0.1,-0.3,-0.6,-0.9,-1.1,-1.4,-1.7,-1.9,-2.2],
[0.5,0.3,0.0,-0.3,-0.5,-0.8,-1.0,-1.3,-1.6,-1.8],[0.6,0.4,0.2,-0.1,-0.4,-0.6,-0.9,-1.2,-1.4,-1.7],[0.5,0.3,0.0,-0.2,-0.5,-0.8,-1.0,-1.3,-1.6,-1.8],
[0.2,-0.1,-0.3,-0.6,-0.9,-1.1,-1.4,-1.7,-1.9,-2.2],[0.3,0.0,-0.2,-0.5,-0.8,-1.0,-1.3,-1.6,-1.8,-2.1],[0.5,0.3,0.1,-0.2,-0.4,-0.7,-1.0,-1.2,-1.5,-1.8],
[0.2,-0.1,-0.4,-0.6,-0.9,-1.2,-1.4,-1.7,-1.9,-2.2],[0.1,-0.2,-0.4,-0.7,-1.0,-1.2,-1.5,-1.8,-2.0,-2.3],[0.2,0.0,-0.3,-0.6,-0.8,-1.1,-1.4,-1.6,-1.9,-2.1],
[0.1,-0.2,-0.5,-0.7,-1.0,-1.3,-1.5,-1.8,-2.1,-2.3],[0.1,-0.1,-0.4,-0.7,-0.9,-1.2,-1.5,-1.7,-2.0,-2.2],[0.4,0.1,-0.1,-0.4,-0.7,-0.9,-1.2,-1.5,-1.7,-2.0],
[0.5,0.3,0.0,-0.3,-0.5,-0.8,-1.1,-1.3,-1.6,-1.9],[0.2,0.0,-0.3,-0.6,-0.8,-1.1,-1.4,-1.6,-1.9,-2.1],[0.5,0.3,0.1,-0.2,-0.5,-0.7,-1.0,-1.3,-1.5,-1.8],
[0.1,-0.2,-0.5,-0.7,-1.0,-1.3,-1.5,-1.8,-2.0,-2.3],[0.3,0.0,-0.3,-0.5,-0.8,-1.1,-1.3,-1.6,-1.8,-2.1],[0.5,0.3,0.1,-0.2,-0.5,-0.7,-1.0,-1.3,-1.5,-1.8],
[0.4,0.2,-0.1,-0.3,-0.6,-0.9,-1.1,-1.4,-1.7,-1.9],[0.4,0.1,-0.1,-0.4,-0.6,-0.9,-1.2,-1.4,-1.7,-2.0],[0.5,0.3,0.0,-0.3,-0.5,-0.8,-1.1,-1.3,-1.6,-1.8]
];

// ---- build series data ----
const boxData = samples.map((s, i) => [s, q1[i], median[i], q3[i], whiskerLow[i], whiskerHigh[i]]);
const outlierData = [];
samples.forEach((s, i) => {
  outliersHigh[i].forEach(v => outlierData.push([s, v]));
  highDense[i].forEach(v => outlierData.push([s, v]));
  outliersLow[i].forEach(v => outlierData.push([s, v]));
  lowDense[i].forEach(v => outlierData.push([s, v]));
});

const FONT = "'Liberation Sans', Arial, Helvetica, sans-serif";
const plusPath = 'path://M0,4.1H10V5.9H0Z M4.3,0H5.7V10H4.3Z';

const chart = echarts.init(document.getElementById('c'), null, {renderer: 'canvas'});
chart.setOption({
  animation: false,
  backgroundColor: '#ffffff',
  grid: {left: 92, right: 15, top: 11, bottom: 75, show: true, borderColor: '#505050', borderWidth: 2, backgroundColor: 'transparent'},
  xAxis: {
    type: 'value', min: 0.72, max: 60.26,
    name: 'Numero Campioni', nameLocation: 'middle', nameGap: 46,
    nameTextStyle: {fontFamily: FONT, fontSize: 25, color: '#111', padding: [0, 32, 0, 0]},
    axisLine: {show: false}, axisTick: {show: false}, splitLine: {show: false},
    axisLabel: {customValues: xTickLabels, fontFamily: FONT, fontSize: 19, color: '#111', margin: 7}
  },
  yAxis: [{
    type: 'value', min: -6.13, max: 17.67, position: 'left',
    name: 'Valore delle variabili', nameLocation: 'middle', nameGap: 57,
    nameTextStyle: {fontFamily: FONT, fontSize: 25, color: '#111', padding: [0, 0, 0, 24]},
    axisLine: {show: false}, splitLine: {show: false},
    axisTick: {show: true, inside: true, length: 9, customValues: yTickLabels, lineStyle: {color: '#505050', width: 2}},
    axisLabel: {customValues: yTickLabels, fontFamily: FONT, fontSize: 19, color: '#111', margin: 7}
  }, {
    type: 'value', min: -6.13, max: 17.67, position: 'right',
    axisLine: {show: false}, splitLine: {show: false},
    axisTick: {show: true, inside: true, length: 9, customValues: yTickLabels, lineStyle: {color: '#505050', width: 2}},
    axisLabel: {show: false}
  }],
  series: [{
    type: 'custom',
    data: boxData,
    z: 2,
    renderItem: function (params, api) {
      const x = api.value(0);
      const pq1 = api.coord([x, api.value(1)]);
      const pmed = api.coord([x, api.value(2)]);
      const pq3 = api.coord([x, api.value(3)]);
      const pwl = api.coord([x, api.value(4)]);
      const pwh = api.coord([x, api.value(5)]);
      const hw = (api.coord([x + 0.25, 0])[0] - api.coord([x - 0.25, 0])[0]) / 2;
      const cw = (api.coord([x + 0.16, 0])[0] - api.coord([x - 0.16, 0])[0]) / 2;
      const cx = pq1[0];
      const blk = '#333333';
      return {
        type: 'group',
        children: [
          {type: 'line', shape: {x1: cx, y1: pq3[1], x2: cx, y2: pwh[1]}, style: {stroke: blk, lineWidth: 1.6, lineDash: [6, 6]}},
          {type: 'line', shape: {x1: cx, y1: pq1[1], x2: cx, y2: pwl[1]}, style: {stroke: blk, lineWidth: 1.6, lineDash: [6, 6]}},
          {type: 'line', shape: {x1: cx - cw, y1: pwh[1], x2: cx + cw, y2: pwh[1]}, style: {stroke: blk, lineWidth: 1.6}},
          {type: 'line', shape: {x1: cx - cw, y1: pwl[1], x2: cx + cw, y2: pwl[1]}, style: {stroke: blk, lineWidth: 1.6}},
          {type: 'rect', shape: {x: cx - hw, y: pq3[1], width: 2 * hw, height: pq1[1] - pq3[1]}, style: {fill: 'none', stroke: '#3535ff', lineWidth: 1.5}},
          {type: 'line', shape: {x1: cx - hw, y1: pmed[1], x2: cx + hw, y2: pmed[1]}, style: {stroke: '#ff3535', lineWidth: 1.3}}
        ]
      };
    }
  }, {
    type: 'scatter',
    data: outlierData,
    z: 3,
    symbol: plusPath,
    symbolSize: [10, 10],
    itemStyle: {color: '#ff0000', opacity: 1},
    emphasis: {disabled: true}
  }]
});
</script>
</body>
</html>
